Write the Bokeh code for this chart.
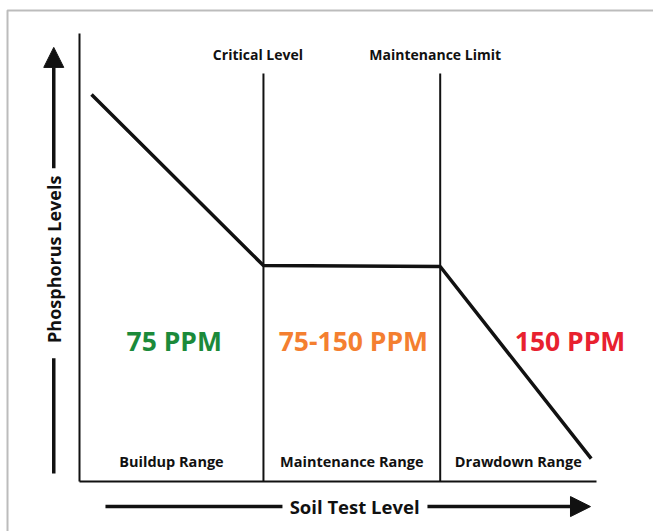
from bokeh.plotting import figure
from bokeh.models import (Range1d, Arrow, NormalHead, BoxAnnotation, ColumnDataSource,
                          LinearAxis, FixedTicker)
from bokeh.embed import file_html
from bokeh.resources import INLINE
from bokeh.core.properties import value
import math

# ---- data (soil test level on x, phosphorus level on y, arbitrary units) ----
curve_soil = [5.0, 76.5, 150.0, 212.8]
curve_phos = [86.4, 48.2, 48.0, 5.1]

threshold_names = ["Critical Level", "Maintenance Limit"]
threshold_soil = [76.5, 150.0]
threshold_top = [91.1, 91.1]
threshold_label_x = [74.2, 147.9]
threshold_label_y = [95.3, 95.3]

range_names = ["Buildup Range", "Maintenance Range", "Drawdown Range"]
range_bounds = [0.0, 76.5, 150.0, 215.0]
range_label_y = [4.5, 4.5, 4.5]

ppm_labels = ["75 PPM", "75-150 PPM", "150 PPM"]
ppm_x = [39.4, 113.9, 204.0]
ppm_y = [31.4, 31.4, 31.4]
ppm_colors = ["#1b8a3a", "#f47f30", "#e8212f"]

x_title = "Soil Test Level"
y_title = "Phosphorus Levels"
x_axis_extent = [0.0, 215.0]
y_axis_extent = [0.0, 100.0]

FONT = "Open Sans"
INK = "#111111"

p = figure(width=653, height=531,
           x_range=Range1d(-32.85, 238.70), y_range=Range1d(-11.16, 107.37),
           x_axis_type=None, y_axis_type=None,
           output_backend="svg", toolbar_location=None,
           min_border=0)
p.grid.visible = False
p.outline_line_color = None

# axes drawn at the data origin, limited to their extents
yax = LinearAxis(fixed_location=0, bounds=tuple(y_axis_extent), ticker=FixedTicker(ticks=[]),
                 axis_line_width=2, axis_line_color=INK,
                 major_tick_line_color=None, minor_tick_line_color=None)
xax = LinearAxis(fixed_location=0, bounds=tuple(x_axis_extent), ticker=FixedTicker(ticks=[]),
                 axis_line_width=2, axis_line_color=INK,
                 major_tick_line_color=None, minor_tick_line_color=None)
p.add_layout(yax, "left")
p.add_layout(xax, "below")

# main response curve
p.line(curve_soil, curve_phos, line_width=3.5, line_color=INK)

# threshold lines
p.segment(x0=threshold_soil, y0=[0, 0], x1=threshold_soil, y1=threshold_top,
          line_width=2, line_color=INK)

# threshold labels
p.text(x=threshold_label_x, y=threshold_label_y, text=threshold_names,
       text_font=value(FONT), text_font_style="bold", text_font_size="14px",
       text_align="center", text_baseline="middle", text_color=INK)

# range labels
range_centers = [(range_bounds[i] + range_bounds[i + 1]) / 2 for i in range(3)]
p.text(x=range_centers, y=range_label_y, text=range_names,
       text_font=value(FONT), text_font_style="bold", text_font_size="14.5px",
       text_align="center", text_baseline="middle", text_color=INK)

# ppm labels
src = ColumnDataSource(dict(x=ppm_x, y=ppm_y, t=ppm_labels, c=ppm_colors))
p.text(x="x", y="y", text="t", text_color="c", source=src,
       text_font=value(FONT), text_font_style="bold", text_font_size="26.5px",
       text_align="center", text_baseline="middle")

# axis titles with arrows
p.text(x=[-10.7], y=[49.6], text=[y_title], angle=math.pi / 2,
       text_font=value(FONT), text_font_style="bold", text_font_size="18px",
       text_align="center", text_baseline="middle", text_color=INK)
p.text(x=[114.4], y=[-5.6], text=[x_title],
       text_font=value(FONT), text_font_style="bold", text_font_size="18.5px",
       text_align="center", text_baseline="middle", text_color=INK)

p.add_layout(Arrow(end=None, x_start=-10.7, y_start=1.8, x_end=-10.7, y_end=27.5,
                   line_width=3.5, line_color=INK))
p.add_layout(Arrow(end=NormalHead(size=20, fill_color=INK, line_color=INK),
                   x_start=-10.7, y_start=69.9, x_end=-10.7, y_end=96.9,
                   line_width=3.5, line_color=INK))
p.add_layout(Arrow(end=None, x_start=10.8, y_start=-5.6, x_end=84.4, y_end=-5.6,
                   line_width=3.5, line_color=INK))
p.add_layout(Arrow(end=NormalHead(size=20, fill_color=INK, line_color=INK),
                   x_start=144.7, y_start=-5.6, x_end=212.5, y_end=-5.6,
                   line_width=3.5, line_color=INK))

# outer frame (left and top edges visible)
p.add_layout(BoxAnnotation(left=-29.94, right=400, top=105.13, bottom=-60,
                           fill_alpha=0, line_color="#222222", line_width=2))

open("out.html", "w").write(file_html(p, INLINE))
